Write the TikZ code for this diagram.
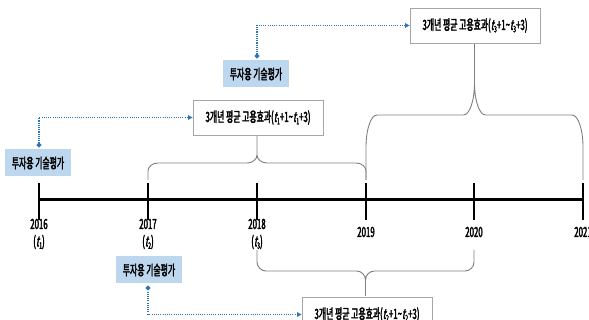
\documentclass[tikz,border=0pt]{standalone}
\usepackage{fontspec}
\usetikzlibrary{arrows.meta}
\newfontfamily\kr[FakeStretch=0.56,AutoFakeSlant=0.2,AutoFakeBold=2.2]{Noto Sans CJK KR}
\newcommand\tsub[1]{\textit{t}\kern0.4pt\raisebox{-2.4pt}{\fontsize{9}{9}\selectfont #1}}
\definecolor{evblue}{HTML}{BDD7EE}
\definecolor{lnblue}{HTML}{2E75B6}
\definecolor{brgray}{HTML}{7F7F7F}
\definecolor{bxgray}{HTML}{A6A6A6}
% brace: #1 L, #2 R, #3 tip y, #4 horizontal y, #5 end y, #6 rx, #7 ry (signed)
\newcommand\mybrace[7]{%
  \pgfmathsetmacro\bM{(#1+#2)/2}%
  \draw[bracestyle] (#1,#5) -- (#1,{#4+#7})
    .. controls (#1,{#4+0.448*#7}) and ({#1+0.448*#6},#4) .. ({#1+#6},#4)
    -- ({\bM-#6},#4)
    .. controls ({\bM-0.448*#6},#4) and (\bM,{#4-0.448*#7}) .. (\bM,{#4-#7})
    -- (\bM,#3) -- (\bM,{#4-#7})
    .. controls (\bM,{#4-0.448*#7}) and ({\bM+0.448*#6},#4) .. ({\bM+#6},#4)
    -- ({#2-#6},#4)
    .. controls ({#2-0.448*#6},#4) and (#2,{#4+0.448*#7}) .. (#2,{#4+#7})
    -- (#2,#5);}
\begin{document}
\begin{tikzpicture}[x=1pt,y=-1pt,
  every node/.style={font=\kr\bfseries\fontsize{14}{16}\selectfont, inner sep=0pt},
  evbox/.style={fill=evblue, minimum width=66pt, minimum height=27pt},
  effbox/.style={draw=bxgray, line width=0.8pt, fill=white, minimum width=130pt, minimum height=35pt},
  conn/.style={lnblue, line width=1.6pt, dash pattern=on 1.1pt off 1.1pt,
    {Circle[length=4.5pt]}-{Triangle[length=4.5pt,width=4.5pt]}},
  bracestyle/.style={brgray, line width=0.9pt},
  tickline/.style={black, line width=2pt},
  yearlbl/.style={anchor=center}]
\useasboundingbox (0,0) rectangle (589,320);

% timeline
\coordinate (t16) at (39,200);
\coordinate (t17) at (148,200);
\coordinate (t18) at (257,200);
\coordinate (t19) at (366,200);
\coordinate (t20) at (474,200);
\coordinate (t21) at (583,200);
\draw[black, line width=3pt] (t16) -- (t21);
\foreach \p in {t16,t17,t18,t19,t20,t21}
  \draw[tickline] ([yshift=-20pt]\p) -- ([yshift=17pt]\p);

% year labels
\node[yearlbl] (y16) at (39,224) {2016};
\node[yearlbl] (s16) at (39,242) {(\tsub{1})};
\node[yearlbl] (y17) at (148,224) {2017};
\node[yearlbl] (s17) at (148,242) {(\tsub{2})};
\node[yearlbl] (y18) at (257,224) {2018};
\node[yearlbl] (s18) at (257,242) {(\tsub{3})};
\node[yearlbl] (y19) at (366,232) {2019};
\node[yearlbl] (y20) at (474,232) {2020};
\node[yearlbl] (y21) at (583,232) {2021};

% braces
\mybrace{148}{366}{134}{163}{180}{10}{8}
\mybrace{366}{583}{43}{115}{180}{11}{32}
\mybrace{257}{474}{296}{271}{250}{9}{-9}

% evaluation boxes
\node[evbox] (ev1) at (38,163) {투자용 기술평가};
\node[evbox] (ev2) at (256,74) {투자용 기술평가};
\node[evbox] (ev3) at (149,270) {투자용 기술평가};

% effect boxes
\node[effbox] (ef1) at (258,117.5) {3개년 평균 고용효과(\tsub{1}+1\textasciitilde\tsub{1}+3)};
\node[effbox] (ef2) at (475,25.5) {3개년 평균 고용효과(\tsub{3}+1\textasciitilde\tsub{3}+3)};
\node[effbox] (ef3) at (367,314.5) {3개년 평균 고용효과(\tsub{2}+1\textasciitilde\tsub{2}+3)};

% connectors
\draw[conn] ([xshift=1pt,yshift=2pt]ev1.north) |- (ef1.west);
\draw[conn] ([xshift=1pt,yshift=2pt]ev2.north) |- (ef2.west);
\draw[conn] ([xshift=-1pt,yshift=-2pt]ev3.south) |- (ef3.west);
\end{tikzpicture}
\end{document}
